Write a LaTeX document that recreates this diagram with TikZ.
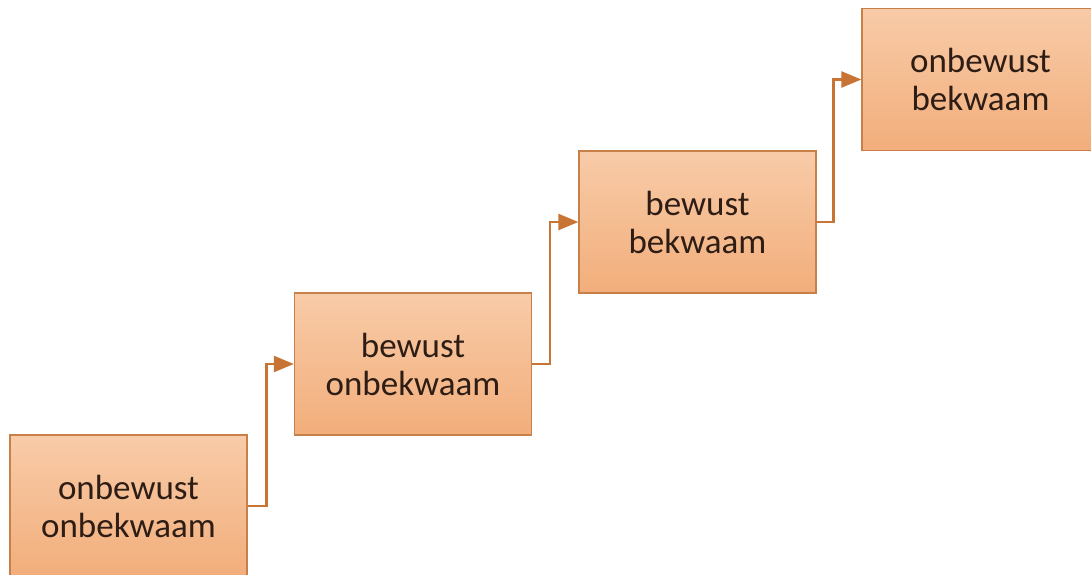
\documentclass[tikz,border=0pt]{standalone}
\usepackage{fontspec}
\setmainfont{Carlito}
\usetikzlibrary{arrows.meta}
\definecolor{boxtop}{HTML}{F8CBA8}
\definecolor{boxbot}{HTML}{F2AE7B}
\definecolor{boxborder}{HTML}{C8804A}
\definecolor{linkc}{HTML}{C87434}
\definecolor{txt}{HTML}{2E1D14}
\begin{document}
\begin{tikzpicture}[x=1pt,y=1pt,
  stage/.style={draw=boxborder, line width=1.3pt, top color=boxtop, bottom color=boxbot,
    minimum width=237pt, minimum height=142pt, inner sep=0pt, align=center,
    font=\fontsize{35}{38}\selectfont, text=txt},
  link/.style={draw=linkc, line width=2.4pt, -{Triangle[length=20pt,width=16pt]}}]
\useasboundingbox (0,0) rectangle (1091,574);
\clip (0,0) rectangle (1091,574);
\fill[white] (0,0) rectangle (1091,574);
\node[stage] (s1) at (128.5,68) {onbewust\\onbekwaam};
\node[stage] (s2) at (413,210) {bewust\\onbekwaam};
\node[stage] (s3) at (697.5,352) {bewust\\bekwaam};
\node[stage] (s4) at (980.5,494.5) {onbewust\\bekwaam};
\draw[link] (s1.east) -- ++(19,0) |- (s2.west);
\draw[link] (s2.east) -- ++(18,0) |- (s3.west);
\draw[link] (s3.east) -- ++(17,0) |- (s4.west);
\end{tikzpicture}
\end{document}
